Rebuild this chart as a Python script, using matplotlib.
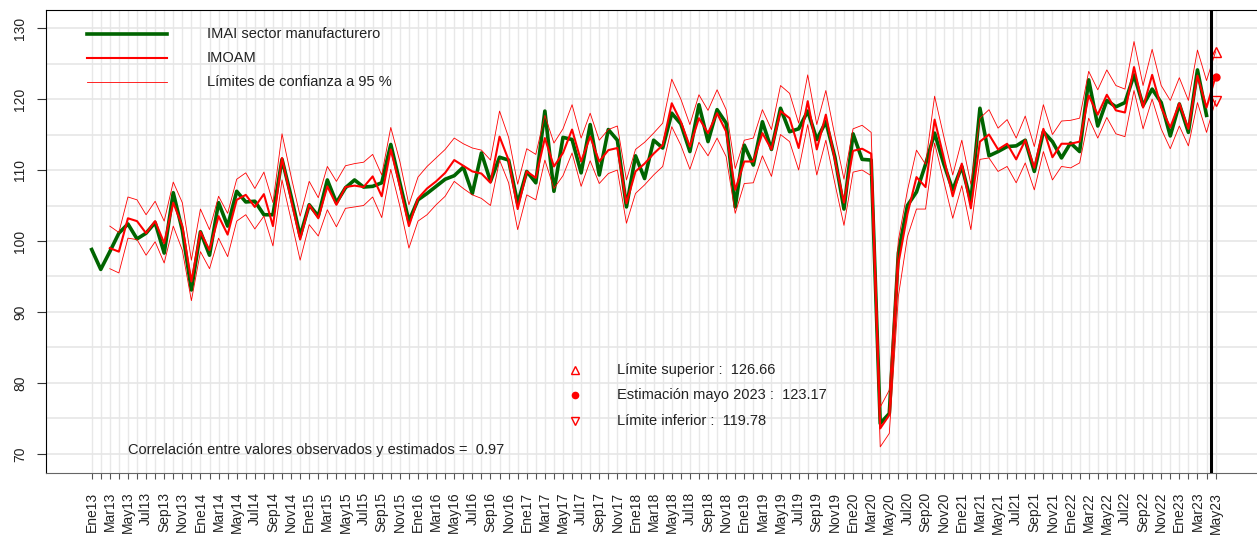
import numpy as np
import matplotlib.pyplot as plt

meses = ["Ene", "Feb", "Mar", "Abr", "May", "Jun", "Jul", "Ago", "Sep", "Oct", "Nov", "Dic"]
etiquetas = [f"{m}{a}" for a in range(13, 24) for m in meses][:125]

# IMAI sector manufacturero, Ene13 - Abr23
imai = [98.8, 96.0, 98.5, 101.1, 102.4, 100.3, 101.1, 102.6, 98.3, 106.8,
        101.5, 93.1, 101.3, 98.0, 105.4, 102.1, 107.0, 105.5, 105.6, 103.7,
        103.7, 111.5, 106.3, 100.7, 105.1, 103.5, 108.6, 105.4, 107.5, 108.6,
        107.6, 107.7, 108.2, 113.6, 108.2, 102.8, 105.8, 106.7, 107.7, 108.7,
        109.2, 110.4, 106.7, 112.4, 108.4, 111.8, 111.4, 105.3, 109.8, 108.2,
        118.3, 107.0, 114.6, 114.3, 109.6, 116.4, 109.3, 115.7, 114.2, 104.8,
        112.0, 108.8, 114.2, 113.1, 118.0, 116.5, 112.6, 119.2, 114.0, 118.5,
        116.6, 104.8, 113.5, 110.7, 116.8, 112.9, 118.7, 115.4, 115.8, 118.3,
        114.3, 116.8, 111.8, 104.5, 115.1, 111.5, 111.4, 74.3, 75.7, 98.3,
        105.0, 106.9, 110.8, 115.2, 110.9, 107.2, 110.5, 105.6, 118.7, 112.0,
        112.6, 113.3, 113.4, 114.2, 109.8, 115.4, 114.0, 111.7, 113.8, 112.6,
        122.7, 116.2, 119.8, 118.9, 119.5, 123.4, 119.1, 121.4, 119.5, 114.8,
        119.3, 115.3, 124.1, 117.7]

# IMOAM y limites de confianza, Mar13 - May23
imoam = [99.0, 98.5, 103.2, 102.8, 101.1, 102.8, 99.7, 105.4, 102.1, 94.3,
         101.3, 98.7, 103.5, 100.9, 105.8, 106.5, 104.8, 106.6, 102.1, 111.7,
         105.8, 100.2, 105.1, 103.2, 107.7, 105.1, 107.6, 107.8, 107.6, 109.1,
         106.3, 112.9, 107.7, 102.1, 106.0, 107.4, 108.4, 109.6, 111.4, 110.6,
         109.8, 109.5, 108.2, 114.7, 111.4, 104.5, 109.8, 108.9, 114.5, 110.5,
         112.4, 115.7, 111.2, 114.7, 111.2, 112.8, 113.1, 105.3, 109.8, 110.9,
         112.3, 113.5, 119.4, 116.8, 113.3, 117.3, 115.2, 118.0, 115.4, 107.2,
         111.2, 111.2, 115.2, 112.9, 118.3, 117.3, 113.1, 119.7, 112.9, 117.8,
         111.4, 105.4, 112.7, 113.0, 112.3, 73.6, 75.5, 96.8, 103.8, 109.0,
         107.6, 117.1, 111.8, 106.3, 110.9, 104.6, 114.0, 115.0, 112.9, 113.7,
         111.5, 114.2, 110.3, 115.8, 111.8, 113.7, 113.7, 114.0, 120.5, 117.8,
         120.6, 118.4, 118.1, 124.5, 118.8, 123.4, 118.8, 116.0, 119.4, 115.8,
         123.3, 118.8, 123.17]

lim_sup = [102.1, 101.2, 106.2, 105.8, 103.7, 105.6, 102.8, 108.3, 105.4, 97.3,
           104.5, 101.6, 106.3, 103.9, 108.7, 109.6, 107.4, 109.7, 105.4, 115.1,
           109.1, 103.5, 108.4, 106.1, 110.5, 108.4, 110.6, 110.9, 111.1, 112.2,
           109.3, 116.0, 111.2, 105.1, 109.0, 110.5, 111.7, 112.9, 114.5, 113.7,
           113.1, 112.8, 111.4, 118.3, 114.6, 108.0, 113.0, 112.2, 117.7, 113.8,
           115.8, 119.2, 114.5, 118.0, 114.2, 115.7, 116.2, 108.6, 112.9, 113.9,
           115.2, 116.6, 122.8, 120.0, 116.4, 120.6, 118.4, 121.3, 118.5, 110.2,
           114.2, 114.5, 118.5, 115.7, 121.9, 120.8, 116.6, 123.4, 116.4, 121.2,
           114.8, 108.7, 115.8, 116.3, 115.3, 76.6, 79.0, 100.1, 107.1, 112.8,
           110.8, 120.4, 114.8, 109.3, 114.2, 108.0, 117.3, 118.5, 115.9, 117.1,
           114.5, 117.6, 113.3, 119.2, 115.0, 116.9, 117.0, 117.3, 123.9, 121.3,
           124.1, 121.9, 121.4, 128.1, 121.9, 127.0, 121.9, 119.8, 123.0, 119.8,
           126.9, 122.6, 126.66]

lim_inf = [96.1, 95.5, 100.4, 100.2, 98.0, 99.9, 96.9, 102.1, 98.7, 91.6,
           98.5, 96.1, 100.4, 97.8, 102.8, 103.7, 101.7, 103.5, 99.3, 108.6,
           103.0, 97.3, 102.3, 100.7, 104.4, 102.0, 104.6, 104.8, 105.0, 106.2,
           103.3, 110.1, 104.9, 99.0, 102.8, 103.7, 105.1, 106.3, 108.4, 107.4,
           106.5, 106.0, 105.0, 111.4, 108.2, 101.6, 106.5, 105.8, 111.4, 107.4,
           109.2, 112.4, 107.7, 111.3, 108.1, 109.5, 110.0, 102.5, 106.7, 107.9,
           109.3, 110.5, 116.1, 113.5, 110.1, 113.9, 112.0, 114.5, 111.9, 103.9,
           108.1, 108.2, 112.0, 109.1, 115.0, 114.0, 110.0, 116.4, 109.3, 114.2,
           108.1, 102.2, 109.7, 110.0, 109.2, 71.0, 72.9, 92.2, 100.6, 104.5,
           104.5, 113.8, 108.5, 103.2, 107.8, 101.6, 111.5, 111.7, 109.8, 110.5,
           108.2, 111.0, 107.2, 112.6, 108.6, 110.5, 110.3, 111.0, 117.3, 114.5,
           117.4, 115.1, 114.7, 121.2, 115.8, 120.0, 115.8, 113.0, 116.2, 113.4,
           119.5, 115.3, 119.78]

correlacion = 0.97

x_imai = np.arange(len(imai))
x_imoam = np.arange(2, 2 + len(imoam))
x_est = x_imoam[-1]

plt.rcParams['font.family'] = ['Liberation Sans', 'DejaVu Sans']

fig = plt.figure(figsize=(12.57, 5.36), dpi=100)
ax = fig.add_axes([46 / 1257, 1 - 473 / 536, 1214 / 1257, 463 / 536])

ax.plot(x_imai, imai, color='#006400', lw=2.6, zorder=3)
ax.plot(x_imoam, imoam, color='#ff0000', lw=1.5, zorder=4)
ax.plot(x_imoam, lim_sup, color='#ff0000', lw=0.6, zorder=4)
ax.plot(x_imoam, lim_inf, color='#ff0000', lw=0.6, zorder=4)

ax.plot(x_est, lim_sup[-1], marker='^', ms=7, mfc='none', mec='red', mew=1, zorder=5)
ax.plot(x_est, imoam[-1], marker='o', ms=5, color='red', zorder=5)
ax.plot(x_est, lim_inf[-1], marker='v', ms=7, mfc='none', mec='red', mew=1, zorder=5)

ax.axvline(x_est - 0.5, color='black', lw=2.2, zorder=6)

ax.set_xlim(-5.04, 128.9)
ax.set_ylim(67.32, 132.54)

ax.set_xticks(np.arange(len(etiquetas)))
ax.set_xticklabels([e if i % 2 == 0 else "" for i, e in enumerate(etiquetas)])
ax.set_yticks(range(70, 131, 10))
ax.set_yticks(range(70, 131, 5), minor=True)
ax.tick_params(axis='x', length=4.5, pad=9, labelsize=10, labelrotation=90,
               color='#555555', labelcolor='#222222')
ax.tick_params(axis='y', which='major', length=6.5, pad=7, labelsize=10,
               labelrotation=90, color='#333333', labelcolor='#222222')
ax.tick_params(axis='y', which='minor', length=0)
for lab in ax.get_yticklabels():
    lab.set_va('center')

ax.grid(axis='x', color='#e8e8e8', lw=1.0)
ax.grid(axis='y', which='both', color='#e6e6e6', lw=1.2)
ax.set_axisbelow(True)

ax.spines['right'].set_visible(False)
ax.spines['top'].set_color('black')
ax.spines['left'].set_color('black')
ax.spines['bottom'].set_color('#666666')

# leyenda
leyenda = [("IMAI sector manufacturero", '#006400', 2.6),
           ("IMOAM", '#ff0000', 1.5),
           ("Límites de confianza a 95 %", '#ff0000', 0.6)]
for k, (txt, col, w) in enumerate(leyenda):
    yy = 0.949 - k * 0.0518
    ax.plot([0.0338, 0.0997], [yy, yy], color=col, lw=w, transform=ax.transAxes,
            clip_on=False, zorder=7)
    ax.text(0.1326, yy, txt, transform=ax.transAxes, fontsize=10.5, va='center',
            ha='left', color='#222222', zorder=7)

# recuadro de estimacion
notas = [('^', 'none', f"Límite superior :  {lim_sup[-1]:.2f}"),
         ('o', 'red', f"Estimación mayo 2023 :  {imoam[-1]:.2f}"),
         ('v', 'none', f"Límite inferior :  {lim_inf[-1]:.2f}")]
for k, (mk, fc, txt) in enumerate(notas):
    yy = 0.2225 - k * 0.0551
    ax.plot([0.4357], [yy], marker=mk, ms=6 if mk != 'o' else 4.5, mfc=fc, mec='red',
            mew=1, transform=ax.transAxes, zorder=7)
    ax.text(0.4703, yy, txt, transform=ax.transAxes, fontsize=10.5, va='center',
            ha='left', color='#222222', zorder=7)

ax.text(0.0675, 0.0497, f"Correlación entre valores observados y estimados =  {correlacion:.2f}",
        transform=ax.transAxes, fontsize=10.5, va='center', ha='left', color='#222222')

fig.savefig("out.png", dpi=100)
